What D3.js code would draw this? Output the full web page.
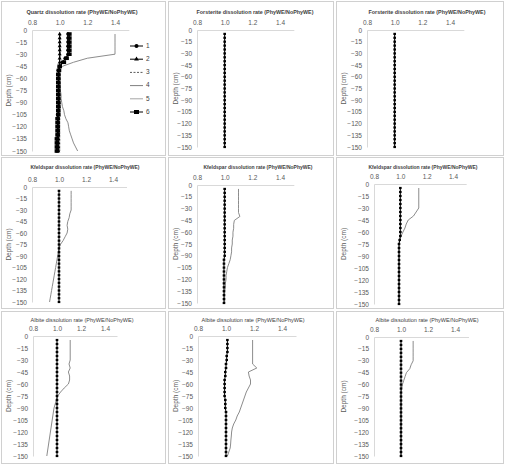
<!DOCTYPE html>
<html>
<head>
<meta charset="utf-8">
<script src="https://cdn.jsdelivr.net/npm/d3@7"></script>
<style>
  html, body { margin: 0; padding: 0; background: #fff; }
  svg { display: block; font-family: "Liberation Sans", Arial, sans-serif; }
</style>
</head>
<body>
<div id="chart"></div>
<script>
// ---- data ----
const depths = [-5, -10, -15, -20, -25, -30, -35, -40, -45, -50, -55, -60, -65, -70, -75,
  -80, -85, -90, -95, -100, -105, -110, -115, -120, -125, -130, -135, -140, -145, -150];
const depthTicks = [0, -15, -30, -45, -60, -75, -90, -105, -120, -135, -150];
const rateTicks = [0.8, 1.0, 1.2, 1.4];
const legendLabels = ['1', '2', '3', '4', '5', '6'];

// Quartz, series 1..6
const quartz1 = [1.06, 1.06, 1.06, 1.06, 1.06, 1.06, 1.04, 1.02, 1.0, 0.99, 0.99, 0.99, 0.99, 0.99, 0.99,
  0.99, 0.99, 0.99, 0.99, 0.99, 0.985, 0.985, 0.985, 0.985, 0.985, 0.985, 0.98, 0.98, 0.98, 0.98];
const quartz2 = [1.0, 1.0, 1.0, 1.0, 1.0, 1.0, 1.0, 1.0, 1.0, 0.995, 0.995, 0.995, 0.995, 0.995, 0.995,
  0.995, 0.995, 0.995, 0.995, 0.99, 0.99, 0.99, 0.99, 0.99, 0.99, 0.99, 0.99, 0.99, 0.99, 0.99];
const quartz3 = [1.005, 1.005, 1.005, 1.005, 1.005, 1.005, 1.0, 1.0, 1.0, 1.0, 1.0, 1.0, 1.0, 1.0, 1.0,
  1.0, 1.0, 1.0, 1.0, 1.0, 1.0, 1.0, 1.0, 1.0, 1.0, 1.0, 1.0, 1.0, 1.0, 1.0];
const quartz4 = [1.4, 1.4, 1.4, 1.4, 1.4, 1.4, 1.2, 1.1, 1.02, 1.0, 1.0, 1.0, 1.0, 1.005, 1.005,
  1.01, 1.01, 1.015, 1.02, 1.03, 1.035, 1.045, 1.06, 1.065, 1.07, 1.08, 1.09, 1.1, 1.115, 1.13];
const quartz5 = [1.0, 1.0, 1.0, 1.0, 1.0, 1.0, 1.0, 1.0, 1.0, 1.0, 1.0, 1.0, 1.0, 1.0, 1.0,
  1.0, 1.0, 1.0, 1.0, 1.0, 1.0, 1.0, 1.0, 1.0, 1.0, 1.0, 1.0, 1.0, 1.0, 1.0];
const quartz6 = [1.07, 1.07, 1.07, 1.07, 1.07, 1.07, 1.05, 1.03, 1.0, 0.995, 0.99, 0.99, 0.99, 0.99, 0.99,
  0.99, 0.99, 0.99, 0.99, 0.99, 0.99, 0.985, 0.985, 0.985, 0.985, 0.985, 0.98, 0.98, 0.98, 0.98];

// Forsterite
const forsteriteA = [1.0, 1.0, 1.0, 1.0, 1.0, 1.0, 1.0, 1.0, 1.0, 1.0, 1.0, 1.0, 1.0, 1.0, 1.0,
  1.0, 1.0, 1.0, 1.0, 1.0, 1.0, 1.0, 1.0, 1.0, 1.0, 1.0, 1.0, 1.0, 1.0, 1.0];
const forsteriteB = [1.0, 1.0, 1.0, 1.0, 1.0, 1.0, 1.0, 1.0, 1.0, 1.0, 1.0, 1.0, 1.0, 1.0, 1.0,
  1.0, 1.0, 1.0, 1.0, 1.0, 1.0, 1.0, 1.0, 1.0, 1.0, 1.0, 1.0, 1.0, 1.0, 1.0];

// Kfeldspar: base (markers) and variant (thin line) per panel
const kfeldBaseA = [1.0, 1.0, 1.0, 1.0, 1.0, 1.0, 1.0, 1.0, 1.0, 1.0, 1.0, 1.0, 1.0, 1.0, 1.0,
  1.0, 1.0, 1.0, 1.0, 1.0, 1.0, 1.0, 1.0, 1.0, 1.0, 1.0, 1.0, 1.0, 1.0, 1.0];
const kfeldLineA = [1.09, 1.09, 1.09, 1.09, 1.09, 1.09, 1.08, 1.075, 1.065, 1.06, 1.065, 1.06, 1.045, 1.03, 1.01,
  1.0, 0.995, 0.99, 0.985, 0.98, 0.975, 0.97, 0.965, 0.96, 0.955, 0.95, 0.945, 0.94, 0.935, 0.93];
const kfeldBaseB = [1.0, 1.0, 1.0, 1.0, 1.0, 1.0, 1.0, 1.0, 1.0, 1.0, 1.0, 1.0, 1.0, 1.0, 1.0,
  1.0, 1.0, 1.0, 0.995, 0.995, 0.995, 0.995, 0.995, 0.995, 0.995, 0.995, 0.995, 0.995, 0.995, 0.995];
const kfeldLineB = [1.1, 1.1, 1.1, 1.1, 1.1, 1.1, 1.1, 1.11, 1.07, 1.065, 1.065, 1.06, 1.06, 1.055, 1.055,
  1.05, 1.05, 1.045, 1.04, 1.03, 1.02, 1.015, 1.01, 1.01, 1.005, 1.005, 1.0, 1.0, 1.0, 1.0];
const kfeldBaseC = [1.0, 1.0, 1.0, 1.0, 1.0, 1.0, 1.0, 1.0, 1.0, 1.0, 1.0, 1.0, 1.0, 0.995, 0.99,
  0.99, 0.99, 0.99, 0.99, 0.99, 0.99, 0.99, 0.99, 0.99, 0.99, 0.99, 0.99, 0.99, 0.99, 0.99];
const kfeldLineC = [1.14, 1.14, 1.14, 1.14, 1.14, 1.14, 1.12, 1.1, 1.06, 1.045, 1.035, 1.02, 1.005, 0.995, 0.99,
  0.99, 0.99, 0.99, 0.99, 0.99, 0.99, 0.99, 0.99, 0.99, 0.99, 0.99, 0.99, 0.99, 0.99, 0.99];

// Albite
const albiteBaseA = [1.0, 1.0, 1.0, 1.0, 1.0, 1.0, 1.0, 1.0, 1.0, 1.0, 1.0, 1.0, 1.0, 1.0, 1.0,
  1.0, 1.0, 1.0, 1.0, 1.0, 1.0, 1.0, 1.0, 1.0, 1.0, 1.0, 1.0, 1.0, 1.0, 1.0];
const albiteLineA = [1.11, 1.11, 1.11, 1.11, 1.11, 1.11, 1.1, 1.11, 1.095, 1.105, 1.105, 1.095, 1.06, 1.03, 1.005,
  0.995, 0.985, 0.975, 0.97, 0.965, 0.96, 0.955, 0.95, 0.945, 0.94, 0.935, 0.93, 0.925, 0.92, 0.915];
const albiteBaseB = [1.01, 1.01, 1.01, 1.01, 1.005, 1.005, 1.0, 1.0, 0.995, 0.995, 0.99, 0.99, 0.99, 0.99, 0.99,
  0.995, 0.995, 0.995, 1.0, 1.0, 1.0, 1.0, 1.0, 1.0, 1.0, 1.0, 1.0, 1.0, 1.0, 1.0];
const albiteLineB = [1.19, 1.19, 1.19, 1.19, 1.19, 1.19, 1.19, 1.22, 1.16, 1.165, 1.175, 1.175, 1.16, 1.145, 1.135,
  1.125, 1.115, 1.105, 1.095, 1.08, 1.07, 1.055, 1.045, 1.04, 1.038, 1.035, 1.033, 1.03, 1.02, 1.01];
const albiteBaseC = [1.0, 1.0, 1.0, 1.0, 1.0, 1.0, 1.0, 1.0, 1.0, 1.0, 1.0, 1.0, 1.0, 1.0, 1.0,
  1.0, 1.0, 1.0, 1.0, 1.0, 1.0, 1.0, 1.0, 1.0, 1.0, 1.0, 1.0, 1.0, 1.0, 1.0];
const albiteLineC = [1.09, 1.09, 1.09, 1.09, 1.09, 1.09, 1.075, 1.065, 1.04, 1.03, 1.02, 1.01, 1.005, 1.0, 1.0,
  1.0, 1.0, 1.0, 1.0, 1.0, 1.0, 1.0, 1.0, 1.0, 1.0, 1.0, 1.0, 1.0, 1.0, 1.0];

const titleQuartz = 'Quartz dissolution rate (PhyWE/NoPhyWE)';
const titleForsterite = 'Forsterite dissolution rate (PhyWE/NoPhyWE)';
const titleKfeld = 'Kfeldspar dissolution rate (PhyWE/NoPhyWE)';
const titleAlbite = 'Albite dissolution rate (PhyWE/NoPhyWE)';

// ---- layout ----
const W = 506, H = 464;
const colors = { text: '#595959', title: '#404040', axis: '#d9d9d9', border: '#d0d0d0', line: '#7f7f7f' };

// x08/x14: pixel of rate 0.8 / 1.4; y0/y150: pixel of depth 0 / -150
const panels = [
  { title: titleQuartz, box: [1, 1, 164, 154], x08: 32, x14: 115, y0: 30, y150: 151, tx: 82, ty: 12, tw: 111, bold: true, legend: true,
    base: [quartz6, quartz1], line: quartz4 },
  { title: titleForsterite, box: [168, 1, 165, 154], x08: 197, x14: 280, y0: 30, y150: 147, tx: 255, ty: 12, tw: 117, bold: true,
    base: [forsteriteA], line: forsteriteB },
  { title: titleForsterite, box: [336, 1, 167, 154], x08: 367, x14: 450, y0: 30, y150: 147, tx: 427, ty: 12, tw: 117, bold: true,
    base: [forsteriteA], line: forsteriteB },
  { title: titleKfeld, box: [1, 157, 164, 151], x08: 32, x14: 113, y0: 187, y150: 302, tx: 85, ty: 167, tw: 109, bold: true,
    base: [kfeldBaseA], line: kfeldLineA },
  { title: titleKfeld, box: [168, 157, 165, 151], x08: 197, x14: 280, y0: 185, y150: 303, tx: 258, ty: 167, tw: 109, bold: true,
    base: [kfeldBaseB], line: kfeldLineB },
  { title: titleKfeld, box: [336, 157, 167, 151], x08: 374, x14: 453, y0: 184, y150: 304, tx: 423, ty: 167, tw: 109, bold: true,
    base: [kfeldBaseC], line: kfeldLineC },
  { title: titleAlbite, box: [1, 311, 164, 152], x08: 33, x14: 105, y0: 336, y150: 456, tx: 82, ty: 320, tw: 103, bold: false,
    base: [albiteBaseA], line: albiteLineA },
  { title: titleAlbite, box: [168, 311, 165, 152], x08: 198, x14: 282, y0: 336, y150: 456, tx: 253, ty: 320, tw: 103, bold: false,
    base: [albiteBaseB], line: albiteLineB },
  { title: titleAlbite, box: [336, 311, 167, 152], x08: 374, x14: 455, y0: 337, y150: 456, tx: 427, ty: 320, tw: 103, bold: false,
    base: [albiteBaseC], line: albiteLineC }
];

const svg = d3.select('#chart').append('svg')
  .attr('width', W)
  .attr('height', H);

svg.append('rect').attr('width', W).attr('height', H).attr('fill', '#fff');

panels.forEach(p => drawPanel(p));

function drawPanel(p) {
  const g = svg.append('g');

  // panel frame
  g.append('rect')
    .attr('x', p.box[0] + 0.5).attr('y', p.box[1] + 0.5)
    .attr('width', p.box[2]).attr('height', p.box[3])
    .attr('fill', 'none')
    .attr('stroke', colors.border)
    .attr('stroke-width', 1);

  const perUnit = (p.x14 - p.x08) / 0.6;
  const x = d3.scaleLinear().domain([0.8, 1.5]).range([p.x08, p.x08 + perUnit * 0.7]);
  const y = d3.scaleLinear().domain([0, -150]).range([p.y0, p.y150]);

  // x axis on top
  const xAxis = g.append('g')
    .attr('transform', `translate(0,${p.y0})`)
    .call(d3.axisTop(x).tickValues(rateTicks).tickSize(0).tickPadding(5).tickFormat(d3.format('.1f')));
  xAxis.select('.domain').attr('stroke', colors.axis);
  xAxis.selectAll('text').attr('fill', colors.text).attr('font-size', '6.5px');

  // y axis on the left
  const yAxis = g.append('g')
    .attr('transform', `translate(${x(0.8)},0)`)
    .call(d3.axisLeft(y).tickValues(depthTicks).tickSize(0).tickPadding(5));
  yAxis.select('.domain').attr('stroke', colors.axis);
  yAxis.selectAll('text').attr('fill', colors.text).attr('font-size', '6.5px');

  // title
  g.append('text')
    .attr('x', p.tx).attr('y', p.ty)
    .attr('text-anchor', 'middle')
    .attr('dominant-baseline', 'middle')
    .attr('fill', colors.title)
    .attr('font-size', '6px')
    .attr('font-weight', p.bold ? 'bold' : 'normal')
    .attr('textLength', p.tw)
    .attr('lengthAdjust', 'spacingAndGlyphs')
    .text(p.title);

  // axis title
  g.append('text')
    .attr('transform', `translate(${p.box[0] + 8},${(p.y0 + p.y150) / 2}) rotate(-90)`)
    .attr('text-anchor', 'middle')
    .attr('dominant-baseline', 'middle')
    .attr('fill', colors.text)
    .attr('font-size', '6.5px')
    .text('Depth (cm)');

  const line = d3.line()
    .x(d => x(d.v))
    .y(d => y(d.d));
  const pts = arr => arr.map((v, i) => ({ v, d: depths[i] }));

  if (p.legend) {
    // extra series of the quartz panel
    g.append('path').datum(pts(quartz5)).attr('d', line)
      .attr('fill', 'none').attr('stroke', '#a6a6a6').attr('stroke-width', 1);
    g.append('path').datum(pts(quartz3)).attr('d', line)
      .attr('fill', 'none').attr('stroke', '#595959').attr('stroke-width', 1).attr('stroke-dasharray', '2,1.5');
    g.append('path').datum(pts(quartz2)).attr('d', line)
      .attr('fill', 'none').attr('stroke', '#000').attr('stroke-width', 1);
    g.selectAll('.tri').data(pts(quartz2)).enter().append('path')
      .attr('transform', d => `translate(${x(d.v)},${y(d.d)})`)
      .attr('d', d3.symbol(d3.symbolTriangle, 7))
      .attr('fill', '#000');
  }

  // thin comparison line
  g.append('path').datum(pts(p.line)).attr('d', line)
    .attr('fill', 'none').attr('stroke', colors.line).attr('stroke-width', 0.9);

  // marker series
  p.base.forEach((arr, k) => {
    g.append('path').datum(pts(arr)).attr('d', line)
      .attr('fill', 'none').attr('stroke', '#000').attr('stroke-width', 1);
    if (p.legend) {
      if (k === 0) {
        g.selectAll('.sq' + k).data(pts(arr)).enter().append('rect')
          .attr('x', d => x(d.v) - 2.3).attr('y', d => y(d.d) - 1.8)
          .attr('width', 4.6).attr('height', 3.6)
          .attr('fill', '#000');
      } else {
        g.selectAll('.ci' + k).data(pts(arr)).enter().append('circle')
          .attr('cx', d => x(d.v)).attr('cy', d => y(d.d)).attr('r', 1.8)
          .attr('fill', '#000');
      }
    } else {
      g.selectAll('.mk' + k).data(pts(arr)).enter().append('rect')
        .attr('x', d => x(d.v) - 1.3).attr('y', d => y(d.d) - 1.1)
        .attr('width', 2.6).attr('height', 2.2)
        .attr('fill', '#000');
    }
  });

  if (p.legend) drawLegend(g);
}

function drawLegend(g) {
  const ly = d3.scalePoint().domain(legendLabels).range([46, 112]);
  const x1 = 130, x2 = 143, xm = 136.5;
  legendLabels.forEach(lab => {
    const yy = ly(lab);
    const seg = g.append('line')
      .attr('x1', x1).attr('x2', x2).attr('y1', yy).attr('y2', yy)
      .attr('stroke-width', 1);
    if (lab === '1') {
      seg.attr('stroke', '#000');
      g.append('circle').attr('cx', xm).attr('cy', yy).attr('r', 2).attr('fill', '#000');
    } else if (lab === '2') {
      seg.attr('stroke', '#000');
      g.append('path').attr('transform', `translate(${xm},${yy})`)
        .attr('d', d3.symbol(d3.symbolTriangle, 10)).attr('fill', '#000');
    } else if (lab === '3') {
      seg.attr('stroke', '#595959').attr('stroke-dasharray', '2,1.5');
    } else if (lab === '4') {
      seg.attr('stroke', colors.line);
    } else if (lab === '5') {
      seg.attr('stroke', '#a6a6a6');
    } else {
      seg.attr('stroke', '#000');
      g.append('rect').attr('x', xm - 2.5).attr('y', yy - 2).attr('width', 5).attr('height', 4).attr('fill', '#000');
    }
    g.append('text')
      .attr('x', 146).attr('y', yy)
      .attr('dominant-baseline', 'middle')
      .attr('fill', '#404040')
      .attr('font-size', '6.5px')
      .text(lab);
  });
}
</script>
</body>
</html>
